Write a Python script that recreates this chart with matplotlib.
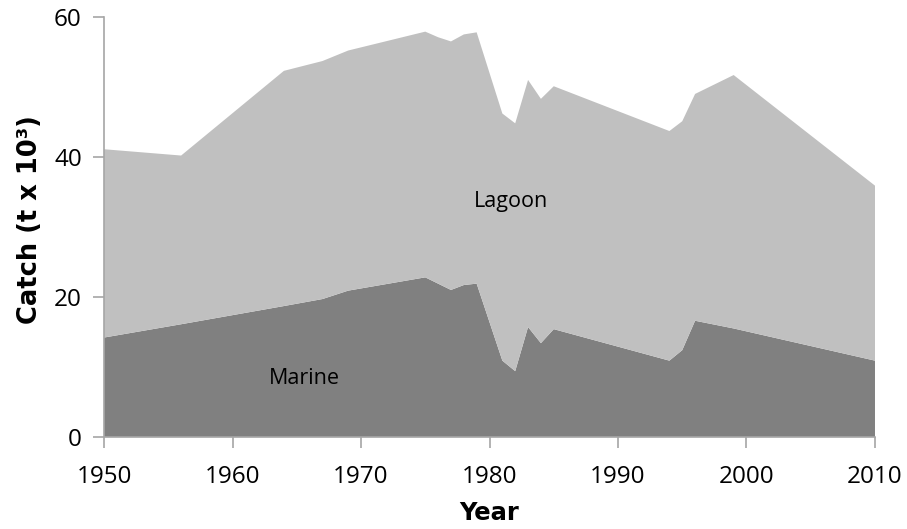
import matplotlib
matplotlib.use("Agg")
import matplotlib.pyplot as plt
import numpy as np

# values (t x 10^3)
years = [1950, 1956, 1964, 1967, 1969, 1975, 1976, 1977, 1978, 1979,
         1981, 1982, 1983, 1984, 1985, 1994, 1995, 1996, 1999, 2010]
marine = [14.2, 16.1, 18.7, 19.7, 20.9, 22.8, 21.9, 21.0, 21.7, 21.9,
          10.9, 9.4, 15.7, 13.4, 15.4, 10.9, 12.4, 16.6, 15.5, 10.9]
total = [41.1, 40.2, 52.3, 53.7, 55.2, 57.9, 57.1, 56.5, 57.5, 57.8,
         46.2, 44.8, 51.0, 48.3, 50.1, 43.7, 45.1, 49.0, 51.7, 35.9]
lagoon = [t - m for t, m in zip(total, marine)]

x_ticks = [1950, 1960, 1970, 1980, 1990, 2000, 2010]
y_ticks = [0, 20, 40, 60]

fig = plt.figure(figsize=(9.07, 5.29), dpi=100)
ax = fig.add_axes([0.1147, 0.174, 0.85, 0.794])

ax.stackplot(years, marine, lagoon, colors=['#808080', '#c0c0c0'], linewidth=0)

ax.set_xlim(1950, 2010)
ax.set_ylim(0, 60)
ax.set_xticks(x_ticks)
ax.set_yticks(y_ticks)

for side in ['top', 'right']:
    ax.spines[side].set_visible(False)
for side in ['left', 'bottom']:
    ax.spines[side].set_color('#a6a6a6')
    ax.spines[side].set_linewidth(1.2)
ax.tick_params(axis='both', direction='out', length=8, width=1.2, color='#a6a6a6',
               labelsize=17.5, pad=8)
ax.tick_params(axis='x', pad=12)
for lbl in ax.get_xticklabels() + ax.get_yticklabels():
    lbl.set_fontfamily('Open Sans')

ax.set_xlabel('Year', fontsize=17.5, fontweight='bold', family='DejaVu Sans', labelpad=9)
ax.set_ylabel('Catch (t x 10³)', fontsize=18.5, fontweight='bold', family='DejaVu Sans')
ax.yaxis.set_label_coords(-0.079, 0.517)

ax.text(1965.6, 8.4, 'Marine', fontsize=15.5, family='Open Sans', ha='center', va='center')
ax.text(1981.7, 33.7, 'Lagoon', fontsize=15.5, family='Open Sans', ha='center', va='center')

fig.savefig('out.png', dpi=100)
